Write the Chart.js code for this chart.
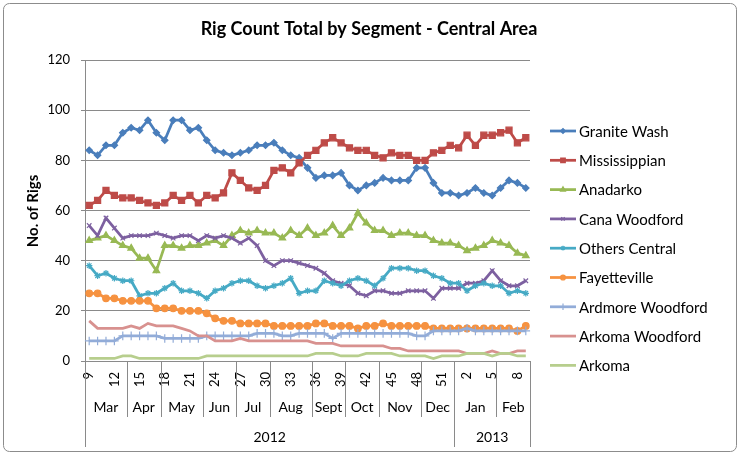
<!DOCTYPE html>
<html>
<head>
<meta charset="utf-8">
<script src="https://cdn.jsdelivr.net/npm/chart.js@4.4.0/dist/chart.umd.min.js"></script>
<style>
  html, body { margin: 0; padding: 0; background: #fff; }
  canvas { display: block; }
</style>
</head>
<body>
<canvas id="rigChart" width="749" height="454"></canvas>
<script>
// week numbers, 2012 wk 9 .. 2013 wk 9
const weekLabels = ['9','10','11','12','13','14','15','16','17','18','19','20','21','22','23','24','25','26','27','28','29','30','31','32','33','34','35','36','37','38','39','40','41','42','43','44','45','46','47','48','49','50','51','52','1','2','3','4','5','6','7','8','9'];
const monthNames = ['Mar','Apr','May','Jun','Jul','Aug','Sept','Oct','Nov','Dec','Jan','Feb'];
const monthSpans = [5,4,5,4,4,5,4,4,5,4,5,4];
const yearNames = ['2012','2013'];
const yearSpans = [44,9];
const yTicks = [0,20,40,60,80,100,120];

const graniteWash = [84,82,86,86,91,93,92,96,91,88,96,96,92,93,88,84,83,82,83,84,86,86,87,84,82,81,77,73,74,74,75,70,68,70,71,73,72,72,72,77,77,71,67,67,66,67,69,67,66,69,72,71,69];
const mississippian = [62,64,68,66,65,65,64,63,62,63,66,64,66,63,66,65,67,75,72,69,68,70,76,77,75,79,82,84,87,89,87,85,84,84,82,81,83,82,82,80,80,83,84,86,85,90,86,90,90,91,92,87,89];
const anadarko = [48,49,50,48,46,45,41,41,36,46,46,45,46,46,47,48,46,50,52,51,52,51,51,49,52,50,53,50,51,54,50,53,59,55,52,52,50,51,51,50,50,48,47,47,46,44,45,46,48,47,46,43,42];
const canaWoodford = [54,50,57,53,49,50,50,50,51,50,49,50,50,48,50,49,50,49,47,49,46,40,38,40,40,39,38,37,35,32,31,30,27,26,28,28,27,27,28,28,28,25,29,29,29,31,31,32,36,32,30,30,32];
const othersCentral = [38,34,35,33,32,32,26,27,27,29,31,28,28,27,25,28,29,31,32,32,30,29,30,31,33,27,28,28,32,31,30,32,33,32,30,33,37,37,37,36,36,34,33,31,31,28,30,31,30,30,27,28,27];
const fayetteville = [27,27,25,25,24,24,24,24,21,21,21,20,20,20,19,17,16,16,15,15,15,15,14,14,14,14,14,15,15,14,14,14,13,14,14,15,14,14,14,14,14,13,13,13,13,13,13,13,13,13,13,12,14];
const ardmoreWoodford = [8,8,8,8,10,10,10,10,10,9,9,9,9,9,10,10,10,10,10,10,11,11,11,10,10,11,11,11,11,9,11,11,11,11,11,11,11,11,11,10,10,12,12,12,12,13,12,12,12,12,12,12,12];
const arkomaWoodford = [16,13,13,13,13,14,13,15,14,14,14,13,12,10,10,8,8,8,9,8,8,8,8,8,8,8,8,7,7,7,6,6,6,6,6,6,5,5,4,4,4,4,4,4,4,3,3,3,4,3,3,4,4];
const arkoma = [1,1,1,1,2,2,1,1,1,1,1,1,1,1,2,2,2,2,2,2,2,2,2,2,2,2,2,3,3,3,2,2,2,3,3,3,3,2,2,2,2,1,2,2,2,3,3,3,2,3,3,2,2];

const seriesNames = ['Granite Wash','Mississippian','Anadarko','Cana Woodford','Others Central','Fayetteville','Ardmore Woodford','Arkoma Woodford','Arkoma'];
const seriesData = [graniteWash, mississippian, anadarko, canaWoodford, othersCentral, fayetteville, ardmoreWoodford, arkomaWoodford, arkoma];
const seriesColors = ['#4A7EBB','#BE4B48','#98B954','#7D60A0','#46AAC5','#F69240','#92ACD8','#D8918F','#B7CE8D'];
const seriesMarkers = ['rectRot','rect','triangle','crossRot','star','circle','cross',false,false];
const markerSizes = [3.2,4.3,3.8,3.2,3.2,3.3,4.3,0,0];

const FONT = 'Lato, Carlito, "Open Sans", sans-serif';
const GRID = '#8a8a8a';

const datasets = seriesNames.map((name, i) => ({
  label: name,
  data: seriesData[i],
  borderColor: seriesColors[i],
  backgroundColor: seriesColors[i],
  borderWidth: 2.75,
  pointStyle: seriesMarkers[i],
  pointRadius: markerSizes[i],
  pointBackgroundColor: seriesColors[i],
  pointBorderColor: seriesColors[i],
  pointBorderWidth: 1.2,
  tension: 0,
  order: seriesNames.length - 1 - i
}));

// draws title, axis title, multi level category axis, legend and outer frame
const decorations = {
  id: 'decorations',
  afterDraw(chart) {
    const ctx = chart.ctx;
    const x = chart.scales.x;
    const area = chart.chartArea;
    const half = (x.getPixelForValue(1) - x.getPixelForValue(0)) / 2;
    const edge = k => k < weekLabels.length ? x.getPixelForValue(k) - half : x.getPixelForValue(k - 1) + half;

    ctx.save();
    ctx.fillStyle = '#000';

    // title
    ctx.font = 'bold 18px ' + FONT;
    ctx.textAlign = 'center';
    ctx.textBaseline = 'middle';
    ctx.fillText('Rig Count Total by Segment - Central Area', 369, 29);

    // y axis title
    ctx.save();
    ctx.translate(33, 211);
    ctx.rotate(-Math.PI / 2);
    ctx.font = 'bold 15px ' + FONT;
    ctx.fillText('No. of Rigs', 0, 0);
    ctx.restore();

    // week numbers
    ctx.font = '13px ' + FONT;
    weekLabels.forEach((w, i) => {
      if (i % 3 !== 0) return;
      ctx.save();
      ctx.translate(x.getPixelForValue(i), area.bottom + 11);
      ctx.rotate(-Math.PI / 2);
      ctx.textAlign = 'right';
      ctx.textBaseline = 'middle';
      ctx.fillText(w, 0, 0);
      ctx.restore();
    });

    ctx.strokeStyle = GRID;
    ctx.lineWidth = 1;

    // months
    ctx.font = '14px ' + FONT;
    ctx.textAlign = 'center';
    let k = 0;
    monthNames.forEach((m, i) => {
      const a = edge(k), b = edge(k + monthSpans[i]);
      ctx.fillText(m, (a + b) / 2, area.bottom + 46);
      k += monthSpans[i];
      ctx.beginPath();
      ctx.moveTo(Math.round(b) + 0.5, area.bottom);
      ctx.lineTo(Math.round(b) + 0.5, area.bottom + 56);
      ctx.stroke();
    });

    // years
    k = 0;
    const yearEdges = [edge(0)];
    yearNames.forEach((y, i) => {
      const a = edge(k), b = edge(k + yearSpans[i]);
      ctx.fillText(y, (a + b) / 2, area.bottom + 76);
      k += yearSpans[i];
      yearEdges.push(b);
    });
    yearEdges.forEach(p => {
      ctx.beginPath();
      ctx.moveTo(Math.round(p) + 0.5, area.bottom);
      ctx.lineTo(Math.round(p) + 0.5, area.bottom + 86);
      ctx.stroke();
    });

    // legend
    ctx.font = '15px ' + FONT;
    ctx.textAlign = 'left';
    seriesNames.forEach((name, i) => {
      const ly = 131 + i * 29.3;
      ctx.strokeStyle = seriesColors[i];
      ctx.lineWidth = 2.75;
      ctx.beginPath();
      ctx.moveTo(550, ly);
      ctx.lineTo(576, ly);
      ctx.stroke();
      if (seriesMarkers[i] && Chart.helpers && Chart.helpers.drawPoint) {
        ctx.fillStyle = seriesColors[i];
        ctx.lineWidth = 1.2;
        Chart.helpers.drawPoint(ctx, { pointStyle: seriesMarkers[i], radius: markerSizes[i] * 0.75, rotation: 0, borderWidth: 1.2 }, 563, ly);
      }
      ctx.fillStyle = '#000';
      ctx.fillText(name, 579, ly + 1);
    });

    // outer frame
    ctx.strokeStyle = '#8c8c8c';
    ctx.lineWidth = 1;
    ctx.beginPath();
    if (ctx.roundRect) ctx.roundRect(3.5, 3.5, 733, 448, 6); else ctx.rect(3.5, 3.5, 733, 448);
    ctx.stroke();
    ctx.restore();
  }
};

new Chart(document.getElementById('rigChart'), {
  type: 'line',
  data: { labels: weekLabels, datasets: datasets },
  plugins: [decorations],
  options: {
    responsive: false,
    animation: false,
    layout: { padding: { top: 60, right: 219, bottom: 0, left: 0 } },
    plugins: { legend: { display: false }, title: { display: false }, tooltip: { enabled: false } },
    scales: {
      x: {
        type: 'category',
        offset: true,
        grid: { display: false },
        border: { display: true, color: GRID, width: 1 },
        ticks: { display: false },
        afterFit: s => { s.height = 93; }
      },
      y: {
        min: 0,
        max: 120,
        afterBuildTicks: s => { s.ticks = yTicks.map(v => ({ value: v })); },
        grid: { color: GRID, lineWidth: 1, tickLength: 4 },
        border: { display: true, color: GRID, width: 1 },
        ticks: { color: '#000', padding: 11, font: { family: FONT, size: 13 } },
        afterFit: s => { s.width = 85; }
      }
    }
  }
});
</script>
</body>
</html>
